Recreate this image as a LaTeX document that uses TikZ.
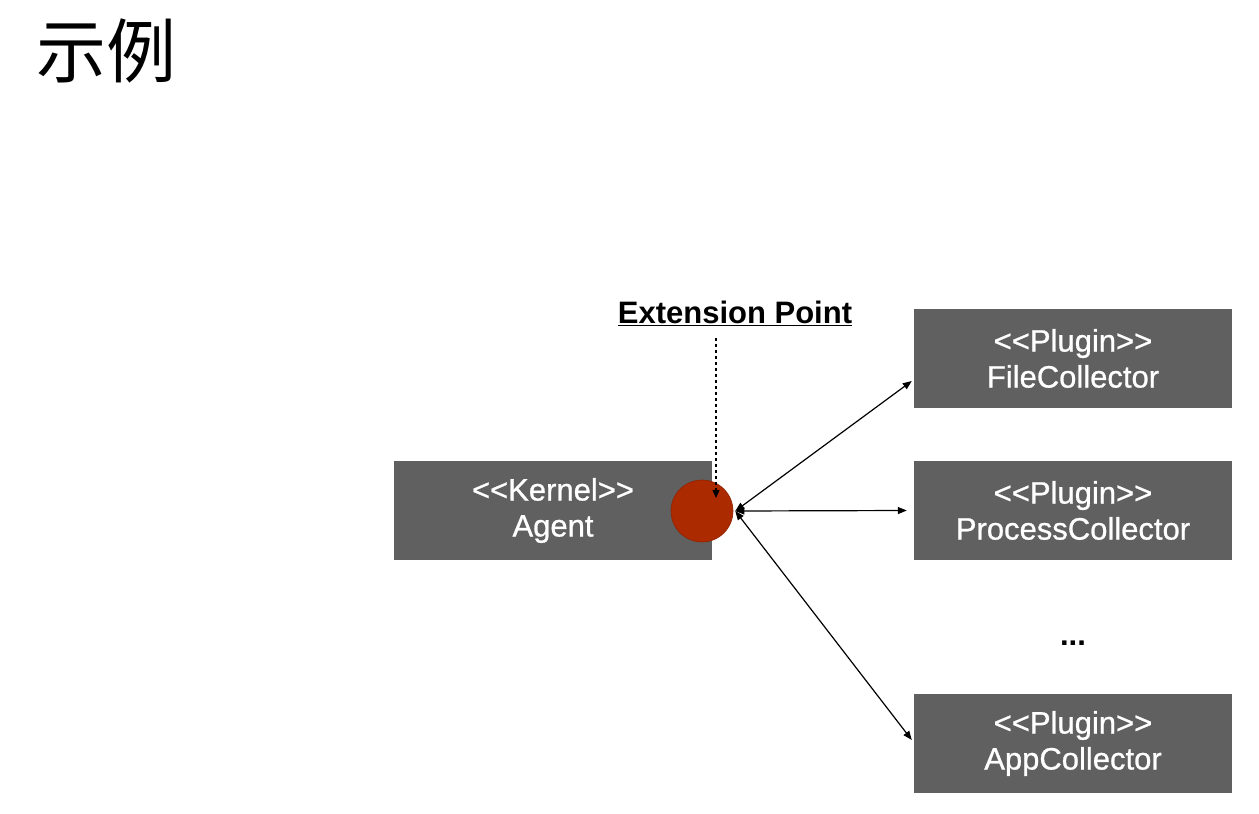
\documentclass[tikz,border=0pt]{standalone}
\usepackage{fontspec}
\setmainfont{Liberation Sans}
\newfontfamily\boxfont{Liberation Sans}[FakeBold=0.8]
\newfontfamily\cjk{Noto Sans CJK SC}
\usetikzlibrary{arrows.meta,calc}
\definecolor{boxgray}{HTML}{606060}
\definecolor{extred}{HTML}{AC2A00}
\definecolor{extredline}{HTML}{8E2200}
\newcommand{\stereo}[1]{<{}<#1>{}>}
\begin{document}
\begin{tikzpicture}[x=1pt,y=-1pt,
  comp/.style={fill=boxgray,draw=none,minimum width=318pt,minimum height=99pt,
    text=white,align=center,font=\boxfont\fontsize{31}{36}\selectfont,inner sep=0pt},
  extpoint/.style={circle,fill=extred,draw=extredline,line width=0.6pt,minimum size=62pt,inner sep=0pt},
  link/.style={line width=1.2pt,{Triangle[length=9pt,width=7pt]}-{Triangle[length=9pt,width=7pt]}},
  hint/.style={line width=1.3pt,dash pattern=on 3pt off 3pt,-{Triangle[length=8pt,width=7pt]}}]
\useasboundingbox (0,0) rectangle (1259,814);

% title
\node[anchor=west,font=\cjk\fontsize{70}{74}\selectfont,inner sep=0pt] (title) at (36,51) {示例};

% kernel and plugins
\node[comp] (agent) at (553,510.5) {\stereo{Kernel}\\Agent};
\node[comp] (file) at (1073,358.5) {\stereo{Plugin}\\FileCollector};
\node[comp] (proc) at (1073,510.5) {\stereo{Plugin}\\ProcessCollector};
\node[comp] (app) at (1073,743.5) {\stereo{Plugin}\\AppCollector};
\node[font=\bfseries\fontsize{31}{36}\selectfont,inner sep=0pt] (more) at (1073,643) {...};

% extension point
\node[extpoint] (ep) at (702,511) {};
\node[font=\bfseries\fontsize{31}{36}\selectfont,inner sep=0pt] (eplabel) at (735,313) {\underline{Extension Point}};
\draw[hint] ([xshift=-19pt,yshift=-12pt]eplabel.south) -- ([xshift=14pt,yshift=13pt]ep.center);

% plugin links
\draw[link] ([xshift=2pt]ep.east) -- ([xshift=-2pt,yshift=-22.5pt]file.west);
\draw[link] ([xshift=2pt]ep.east) -- ([xshift=-7pt]proc.west);
\draw[link] ([xshift=2pt]ep.east) -- ([xshift=-2pt,yshift=3.5pt]app.west);
\end{tikzpicture}
\end{document}
